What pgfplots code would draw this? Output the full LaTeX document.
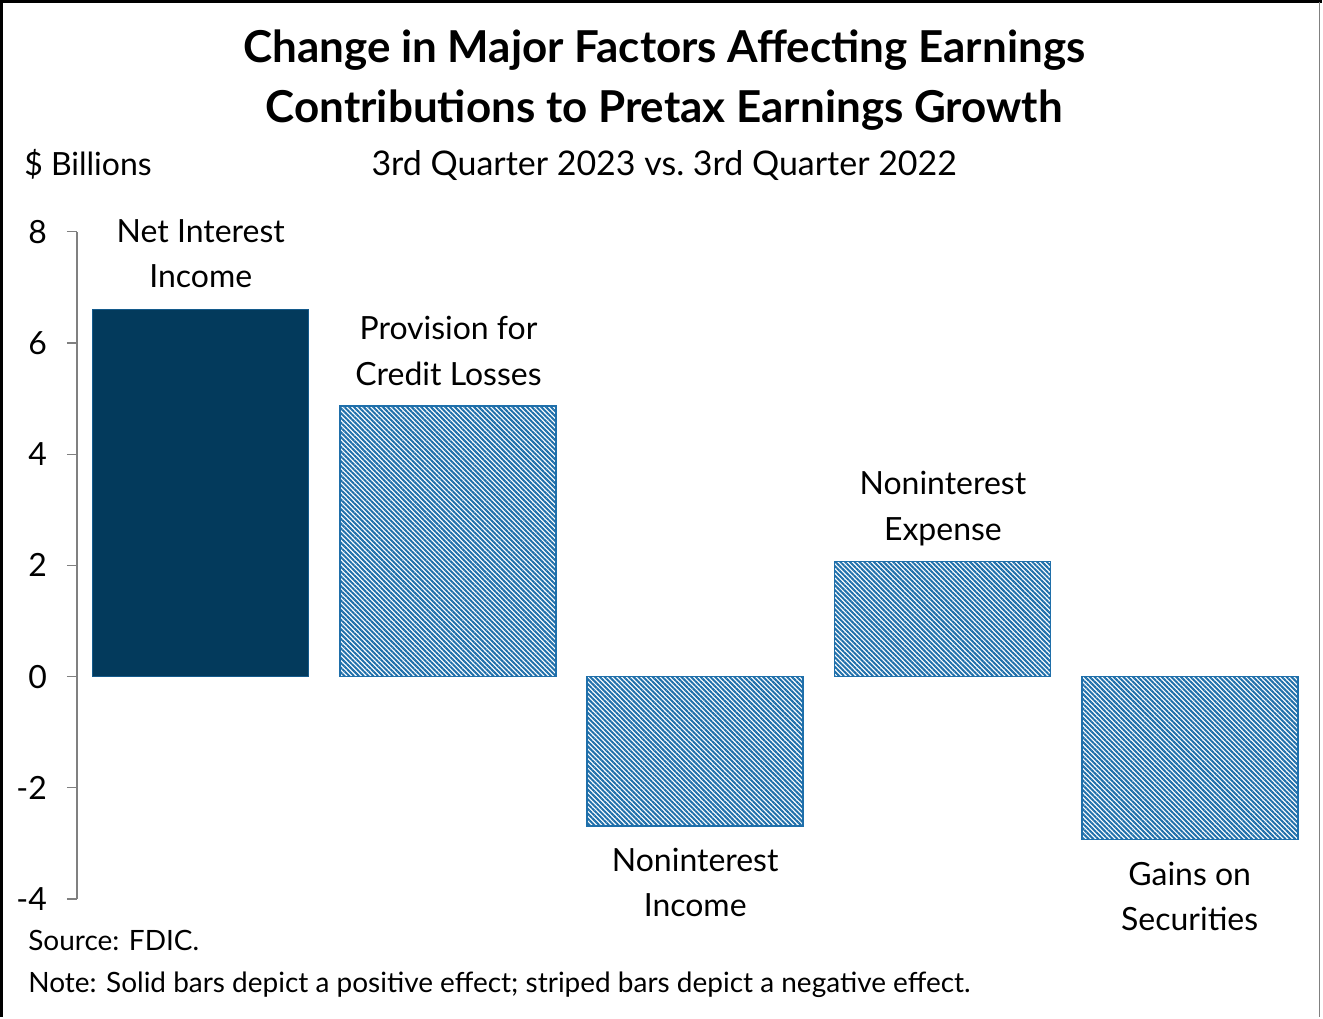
\documentclass[border=0pt]{standalone}
\usepackage{pgfplots}
\pgfplotsset{compat=1.18}
\usetikzlibrary{patterns.meta}
\usepackage{fontspec}
\setmainfont{Lato}
\definecolor{navy}{HTML}{033A5C}
\definecolor{stripe}{HTML}{1F6FAA}
\definecolor{axgray}{HTML}{808080}
\begin{document}
\begin{tikzpicture}[x=0.5pt,y=0.5pt]
% frame
\path (0,0) rectangle (1323,1018);
\draw[line width=1.5pt,black] (2,0) -- (2,1016) -- (1323,1016);
\draw[line width=0.6pt,axgray] (1321,1016) -- (1321,0);
\begin{axis}[
  at={(38.5pt,59pt)}, anchor=south west,
  scale only axis, width=619pt, height=334pt,
  xmin=-0.5, xmax=4.5, ymin=-4, ymax=8,
  ybar, bar shift=0pt, bar width=0.873,
  axis x line=none,
  axis y line*=left,
  y axis line style={axgray, line width=0.6pt},
  ytick={-4,-2,0,2,4,6,8},
  yticklabels={-4,-2,0,2,4,6,8},
  ytick style={axgray, line width=0.6pt},
  tick align=outside, major tick length=5pt,
  yticklabel style={font=\fontsize{16}{18}\selectfont, xshift=-6.5pt},
  /pgf/number format/assume math mode=true,
  clip=false,
]
\addplot[fill=navy, draw=stripe!60!navy, line width=0.5pt] coordinates {(0,6.61)};
\addplot[pattern={Lines[angle=-45,distance=1.7pt,line width=1.0pt]}, pattern color=stripe, draw=stripe, line width=0.9pt]
  coordinates {(1,4.87) (2,-2.69) (3,2.07) (4,-2.93)};
\end{axis}
% titles
\node[anchor=base, font=\fontsize{22}{24}\selectfont\bfseries] at (665,1018-63) {Change in Major Factors Affecting Earnings};
\node[anchor=base, font=\fontsize{22}{24}\selectfont\bfseries] at (665,1018-123) {Contributions to Pretax Earnings Growth};
\node[anchor=base, font=\fontsize{17}{20}\selectfont] at (665,1018-176) {3rd Quarter 2023 vs.\ 3rd Quarter 2022};
\node[anchor=base west, inner sep=0pt, font=\fontsize{16}{20}\selectfont] at (24,1018-176) {\$ Billions};
% labels
\tikzset{lab/.style={anchor=base, inner sep=0pt, font=\fontsize{16}{20}\selectfont}}
\node[lab] at (201,1018-243) {Net Interest};
\node[lab] at (201,1018-288) {Income};
\node[lab] at (449,1018-340) {Provision for};
\node[lab] at (449,1018-386) {Credit Losses};
\node[lab] at (696,1018-872) {Noninterest};
\node[lab] at (696,1018-918) {Income};
\node[lab] at (944,1018-495) {Noninterest};
\node[lab] at (944,1018-541) {Expense};
\node[lab] at (1191,1018-887) {Gains on};
\node[lab] at (1191,1018-932) {Securities};
% notes
\node[anchor=base west, inner sep=0pt, font=\fontsize{14}{16}\selectfont] at (28,1018-952) {Source: FDIC.};
\node[anchor=base west, inner sep=0pt, font=\fontsize{14}{16}\selectfont] at (28,1018-994) {Note: Solid bars depict a positive effect; striped bars depict a negative effect.};
\end{tikzpicture}
\end{document}
